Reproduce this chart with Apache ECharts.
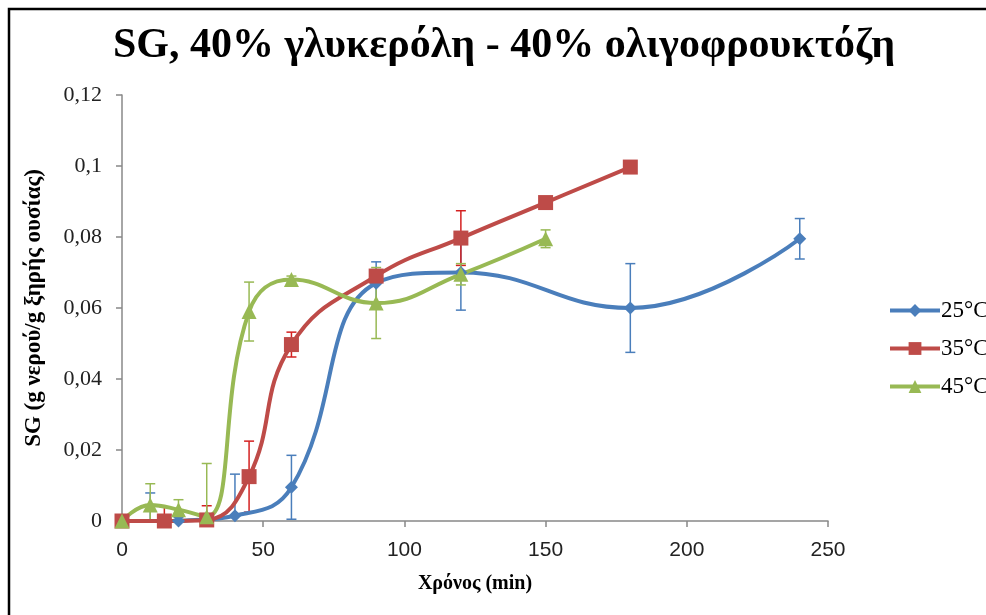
<!DOCTYPE html>
<html>
<head>
<meta charset="utf-8">
<script src="https://cdn.jsdelivr.net/npm/echarts@6/dist/echarts.min.js"></script>
<style>
html, body { margin: 0; padding: 0; background: #fff; }
#chart { width: 986px; height: 615px; }
</style>
</head>
<body>
<div id="chart"></div>
<script>
// Sorption measurements: time (min), SG value and standard deviation per temperature
const seriesNames = ['25°C', '35°C', '45°C'];

const time25 = [0, 10, 20, 40, 60, 90, 120, 180, 240];
const sg25   = [0, -0.0008, 0, 0.0015, 0.0095, 0.067, 0.07, 0.06, 0.0795];
const err25  = [0, 0.0087, 0.001, 0.0117, 0.009, 0.006, 0.0106, 0.0125, 0.0057];

const time35 = [0, 15, 30, 45, 60, 90, 120, 150, 180];
const sg35   = [0, 0, 0.0003, 0.0125, 0.0497, 0.069, 0.0797, 0.0897, 0.0997];
const err35  = [0, 0.004, 0.004, 0.01, 0.0035, 0.001, 0.0077, 0.001, 0.001];

const time45 = [0, 10, 20, 30, 45, 60, 90, 120, 150];
const sg45   = [0, 0.0045, 0.0032, 0.0012, 0.059, 0.068, 0.0614, 0.0695, 0.0795];
const err45  = [0, 0.006, 0.0028, 0.015, 0.0083, 0.001, 0.01, 0.003, 0.0025];

const xTicks = { min: 0, max: 250, interval: 50 };
const yTicks = { min: 0, max: 0.12, interval: 0.02 };

const lineColors = ['#4a7ebb', '#be4b48', '#98b954'];
const errColors  = ['#4a7ebb', '#d42020', '#98b954'];
const symbols    = ['diamond', 'rect', 'triangle'];
const symbolSizes = [13, 15, 15];

const groups = [
  { t: time25, v: sg25, e: err25 },
  { t: time35, v: sg35, e: err35 },
  { t: time45, v: sg45, e: err45 }
];

function pairs(t, v) { return t.map((x, i) => [x, v[i]]); }
function errRows(t, v, e) { return t.map((x, i) => [x, v[i] - e[i], v[i] + e[i]]); }

function errorBarRenderer(color) {
  return function (params, api) {
    const x = api.value(0);
    const lo = api.coord([x, api.value(1)]);
    const hi = api.coord([x, api.value(2)]);
    const half = 5;
    const style = { stroke: color, lineWidth: 1.5, fill: null };
    return {
      type: 'group',
      children: [
        { type: 'line', shape: { x1: hi[0], y1: hi[1], x2: lo[0], y2: lo[1] }, style },
        { type: 'line', shape: { x1: hi[0] - half, y1: hi[1], x2: hi[0] + half, y2: hi[1] }, style },
        { type: 'line', shape: { x1: lo[0] - half, y1: lo[1], x2: lo[0] + half, y2: lo[1] }, style }
      ]
    };
  };
}

const series = [];
groups.forEach((g, i) => {
  series.push({
    name: seriesNames[i] + ' err',
    type: 'custom',
    renderItem: errorBarRenderer(errColors[i]),
    data: errRows(g.t, g.v, g.e),
    encode: { x: 0, y: [1, 2] },
    clip: true,
    z: 1,
    silent: true
  });
});
groups.forEach((g, i) => {
  series.push({
    name: seriesNames[i],
    type: 'line',
    data: pairs(g.t, g.v),
    smooth: 0.45,
    symbol: symbols[i],
    symbolSize: symbolSizes[i],
    showAllSymbol: true,
    lineStyle: { color: lineColors[i], width: 4 },
    itemStyle: { color: lineColors[i] },
    z: 3
  });
});

const serif = '"Liberation Serif", "DejaVu Serif", serif';

const chart = echarts.init(document.getElementById('chart'), null, { renderer: 'canvas' });
chart.setOption({
  animation: false,
  backgroundColor: '#ffffff',
  title: {
    text: 'SG, 40% γλυκερόλη - 40% ολιγοφρουκτόζη',
    left: 499,
    textAlign: 'center',
    top: 20,
    textStyle: { fontFamily: serif, fontSize: 42, fontWeight: 'bold', color: '#000' }
  },
  legend: {
    data: seriesNames,
    orient: 'vertical',
    left: 883,
    top: 294,
    itemWidth: 50,
    itemHeight: 16,
    itemGap: 15,
    lineStyle: { width: 4 },
    textStyle: { fontFamily: serif, fontSize: 23, color: '#000', padding: [0, 0, 0, -4] }
  },
  grid: { left: 122, right: 158, top: 95, bottom: 94 },
  xAxis: {
    type: 'value',
    min: xTicks.min, max: xTicks.max, interval: xTicks.interval,
    name: 'Χρόνος (min)',
    nameLocation: 'middle',
    nameGap: 53,
    nameTextStyle: { fontFamily: serif, fontSize: 20, fontWeight: 'bold', color: '#000' },
    axisLine: { onZero: false, lineStyle: { color: '#888', width: 1.5 } },
    axisTick: { show: true, length: 6, lineStyle: { color: '#888', width: 1.5 } },
    axisLabel: { fontFamily: '"Liberation Sans", "Noto Sans", sans-serif', fontSize: 21, color: '#222', margin: 19 },
    splitLine: { show: false }
  },
  yAxis: {
    type: 'value',
    min: yTicks.min, max: yTicks.max, interval: yTicks.interval,
    name: 'SG (g νερού/g ξηρής ουσίας)',
    nameLocation: 'middle',
    nameGap: 76,
    nameRotate: 90,
    nameTextStyle: { fontFamily: serif, fontSize: 23, fontWeight: 'bold', color: '#000' },
    axisLine: { show: true, lineStyle: { color: '#888', width: 1.5 } },
    axisTick: { show: true, length: 6, lineStyle: { color: '#888', width: 1.5 } },
    axisLabel: {
      fontFamily: serif, fontSize: 22, color: '#222', margin: 20,
      formatter: v => String(parseFloat(v.toFixed(4))).replace('.', ',')
    },
    splitLine: { show: false }
  },
  graphic: [{
    type: 'rect',
    shape: { x: 9, y: 9, width: 1100, height: 800 },
    style: { fill: null, stroke: '#000', lineWidth: 2.5 },
    silent: true,
    z: 100
  }],
  series: series
});
</script>
</body>
</html>
